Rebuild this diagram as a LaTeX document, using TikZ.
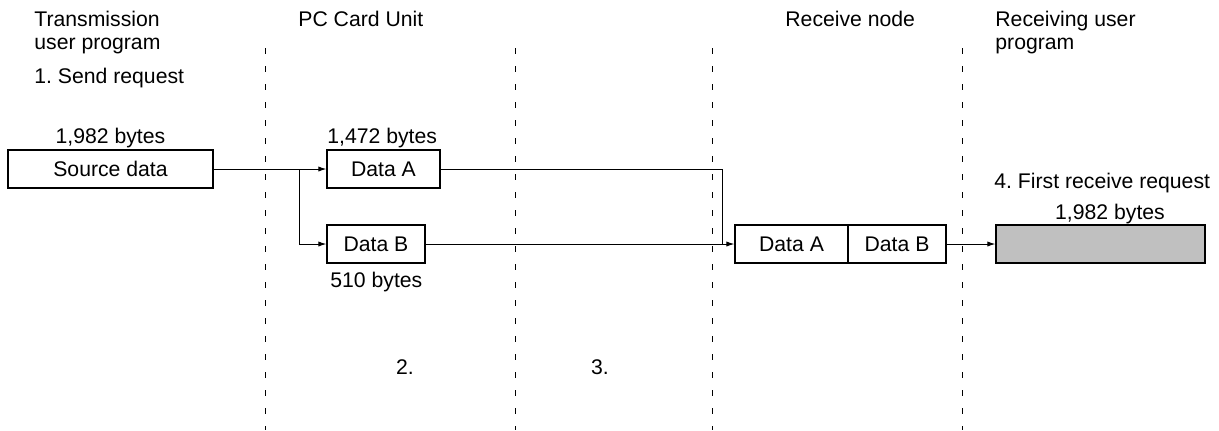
\documentclass[tikz,border=0pt]{standalone}
\usepackage{fontspec}
\setmainfont{Liberation Sans}
\usetikzlibrary{arrows.meta}
\begin{document}
\frenchspacing
\begin{tikzpicture}[x=0.5pt,y=-0.5pt,
  every node/.style={font=\fontsize{10.6}{12.7}\selectfont},
  box/.style={draw,line width=0.6pt,inner sep=0pt,minimum height=19pt},
  lbl/.style={inner sep=0pt,anchor=base west},
  clbl/.style={inner sep=0pt,anchor=base},
  sep/.style={line width=0.5pt,dash pattern=on 3pt off 6pt},
  conn/.style={line width=0.5pt},
  arr/.style={conn,-{Latex[length=4pt,width=2.6pt]}}]
\useasboundingbox (0,0) rectangle (1219,430);
% separators
\foreach \n/\x in {s1/265,s2/515,s3/712,s4/962}{
  \coordinate (\n t) at (\x,48);
  \coordinate (\n b) at (\x,430);
  \draw[sep] (\n t) -- (\n b);
}
% headings
\node[lbl] (h1) at (34,26) {Transmission};
\node[lbl] (h1b) at (34,49) {user program};
\node[lbl] (h1c) at (34,83) {1. Send request};
\node[lbl] (h2) at (298,26) {PC Card Unit};
\node[lbl] (h3) at (785,26) {Receive node};
\node[lbl] (h4) at (995,26) {Receiving user};
\node[lbl] (h4b) at (995,49) {program};
% boxes
\node[box,minimum width=102.5pt] (src) at (110.5,169) {Source data};
\node[box,minimum width=56.5pt] (da) at (383.5,169) {Data A};
\node[box,minimum width=49pt] (db) at (376,244) {Data B};
\node[box,minimum width=56.5pt] (ra) at (791.5,244) {Data A};
\node[box,minimum width=49pt] (rb) at (897,244) {Data B};
\node[box,minimum width=104.5pt,fill={rgb,255:red,192;green,192;blue,192}] (grey) at (1100.5,244) {};
% labels
\node[clbl] (l1) at (110.5,143) {1,982 bytes};
\node[lbl] (l2) at (327,143) {1,472 bytes};
\node[lbl] (l3) at (330,287) {510 bytes};
\node[lbl] (l4) at (994,188) {4. First receive request};
\node[clbl] (l5) at (1110,219) {1,982 bytes};
\node[clbl] (n2) at (405,374) {2.};
\node[clbl] (n3) at (600,374) {3.};
% connectors
\coordinate (br) at (299,169);
\coordinate (jn) at (722,244);
\draw[arr] (src.east) -- (da.west);
\draw[arr] (br) |- (db.west);
\draw[conn] (da.east) -| (jn);
\draw[arr] (db.east) -- (ra.west);
\draw[arr] (rb.east) -- (grey.west);
\end{tikzpicture}
\end{document}
